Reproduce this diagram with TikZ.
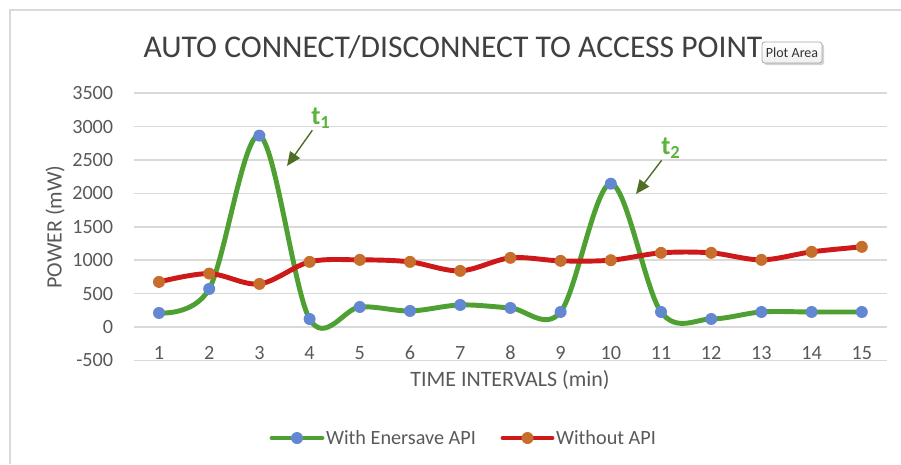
\documentclass[tikz,border=0pt]{standalone}
\usepackage{fontspec}
\setmainfont{Carlito}
\usetikzlibrary{arrows.meta,shadows}
\definecolor{gridgray}{RGB}{217,217,217}
\definecolor{labelgray}{RGB}{89,89,89}
\definecolor{titlegray}{RGB}{64,64,64}
\definecolor{enersave}{RGB}{78,160,50}
\definecolor{plainred}{RGB}{205,25,25}
\definecolor{dotblue}{RGB}{100,135,210}
\definecolor{dotorange}{RGB}{200,110,45}
\definecolor{tgreen}{RGB}{90,180,60}
\definecolor{pointergreen}{RGB}{80,110,40}

\begin{document}
\begin{tikzpicture}[
  x=0.02cm,y=0.02cm,
  frame/.style={draw=gridgray,line width=0.9pt},
  gridline/.style={draw=gridgray,line width=0.85pt},
  tick/.style={text=labelgray,font=\fontsize{11.5}{13}\selectfont,inner sep=1pt},
  axistitle/.style={text=labelgray,font=\fontsize{12.5}{14}\selectfont},
  greenline/.style={draw=enersave,line width=2.8pt,line cap=round},
  redline/.style={draw=plainred,line width=2.8pt,line cap=round},
  bluedot/.style={circle,fill=dotblue,inner sep=0pt,minimum size=0.24cm},
  orangedot/.style={circle,fill=dotorange,inner sep=0pt,minimum size=0.24cm},
  tlabel/.style={text=tgreen,font=\fontsize{15}{17}\selectfont\bfseries,inner sep=1pt},
  pointer/.style={-{Triangle[length=0.28cm,width=0.24cm]},draw=pointergreen,fill=pointergreen,line width=0.8pt},
  legend/.style={text=labelgray,font=\fontsize{11.5}{14}\selectfont,anchor=west,inner sep=1pt}
]
\useasboundingbox (0,0) rectangle (901,464);
\draw[frame] (10,0) -- (10,454) -- (901,454);

\node[text=titlegray,font=\fontsize{18}{21}\selectfont] (title) at (453,417)
  {AUTO CONNECT/DISCONNECT TO ACCESS POINT};

\begin{scope}[shift={(108.8,137)},xscale=50.2,yscale=0.0668]
  \foreach \v in {-500,0,...,3500} {
    \draw[gridline] (0.5,\v) -- (15.5,\v);
    \node[tick,anchor=east] (v\v) at (0.13,\v) {\v};
  }
  \foreach \i in {1,...,15}
    \node[tick] (c\i) at (\i,-390) {\i};

  % with Enersave API
  \draw[greenline] plot[smooth,tension=0.55] coordinates {
    (1,210) (2,570) (3,2865) (4,120) (5,300) (6,240) (7,330) (8,285)
    (9,225) (10,2145) (11,225) (12,120) (13,225) (14,225) (15,225)};
  % without API
  \draw[redline] plot[smooth,tension=0.55] coordinates {
    (1,675) (2,800) (3,645) (4,975) (5,1005) (6,975) (7,840) (8,1035)
    (9,990) (10,1000) (11,1110) (12,1110) (13,1005) (14,1125) (15,1200)};

  \foreach \i/\v in {1/675,2/800,3/645,4/975,5/1005,6/975,7/840,8/1035,
                     9/990,10/1000,11/1110,12/1110,13/1005,14/1125,15/1200}
    \node[orangedot] (r\i) at (\i,\v) {};
  \foreach \i/\v in {1/210,2/570,3/2865,4/120,5/300,6/240,7/330,8/285,
                     9/225,10/2145,11/225,12/120,13/225,14/225,15/225}
    \node[bluedot] (g\i) at (\i,\v) {};
\end{scope}

\node[axistitle,rotate=90] (ytitle) at (55,237) {POWER (mW)};
\node[axistitle] (xtitle) at (510,84) {TIME INTERVALS (min)};

% peak markers
\node[tlabel] (t1) at (321,346) {t\textsubscript{1}};
\node[tlabel] (t2) at (671,316) {t\textsubscript{2}};
\coordinate (t1tip) at (287,298);
\coordinate (t2tip) at (636,270);
\draw[pointer] (t1) -- (t1tip);
\draw[pointer] (t2) -- (t2tip);

% legend
\coordinate (lg1) at (272,26);
\coordinate (lg2) at (322,26);
\coordinate (lr1) at (503,26);
\coordinate (lr2) at (552,26);
\draw[greenline] (lg1) -- (lg2);
\node[bluedot] (lgdot) at (297,26) {};
\node[legend] (lgtext) at (324,26) {With Enersave API};
\draw[redline] (lr1) -- (lr2);
\node[orangedot] (lrdot) at (527.5,26) {};
\node[legend] (lrtext) at (554,26) {Without API};

% tooltip
\node[draw=gray!70,rounded corners=1.5pt,top color=white,bottom color=gray!12,
  drop shadow={opacity=0.35,shadow xshift=1.2pt,shadow yshift=-1.2pt},
  minimum width=1.2cm,minimum height=0.42cm,inner sep=1pt,
  font=\fontsize{8}{9}\selectfont,text=black!80] (tip) at (792,411.5) {Plot Area};
\end{tikzpicture}
\end{document}
